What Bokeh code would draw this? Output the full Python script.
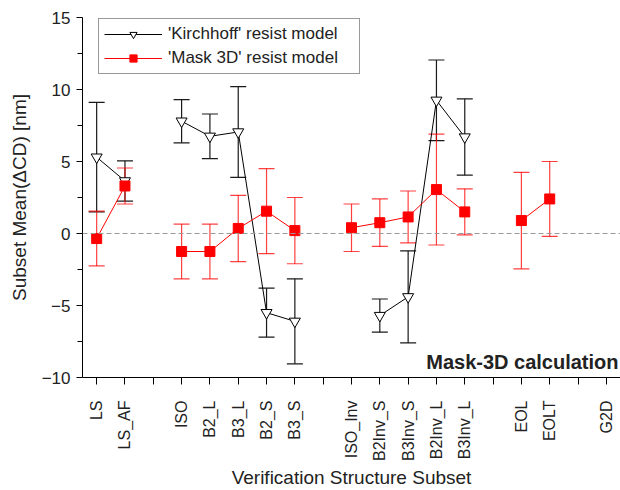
import math
from bokeh.plotting import figure
from bokeh.models import (Whisker, TeeHead, ColumnDataSource, FixedTicker, Span,
                          Label, Legend, LegendItem, Range1d)
from bokeh.embed import file_html
from bokeh.resources import INLINE

nan = float("nan")

# ---- data ----
categories = ["LS", "LS_AF", "", "ISO", "B2_L", "B3_L", "B2_S", "B3_S", "",
              "ISO_Inv", "B2Inv_S", "B3Inv_S", "B2Inv_L", "B3Inv_L", "",
              "EOL", "EOLT", "", "G2D"]
x_pos = list(range(1, len(categories) + 1))

kirch_mean = [5.3, 3.65, nan, 7.8, 6.75, 7.05, -5.5, -6.1, nan,
              nan, -5.7, -4.4, 9.25, 6.7, nan, nan, nan, nan, nan]
kirch_err = [3.8, 1.4, nan, 1.5, 1.55, 3.15, 1.7, 2.95, nan,
             nan, 1.15, 3.2, 2.8, 2.65, nan, nan, nan, nan, nan]

mask_mean = [-0.35, 3.3, nan, -1.25, -1.25, 0.35, 1.55, 0.2, nan,
             0.4, 0.75, 1.15, 3.05, 1.5, nan, 0.9, 2.4, nan, nan]
mask_err = [1.9, 1.25, nan, 1.9, 1.9, 2.3, 2.95, 2.3, nan,
            1.65, 1.65, 1.8, 3.85, 1.6, nan, 3.35, 2.6, nan, nan]

y_ticks = [-10, -5, 0, 5, 10, 15]
y_minor_ticks = [-7.5, -2.5, 2.5, 7.5, 12.5]

FONT = "Liberation Sans"
TXT = "#222222"


def err_source(xs, means, errs):
    rows = [(x, m, e) for x, m, e in zip(xs, means, errs)
            if not (math.isnan(m) or math.isnan(e))]
    return ColumnDataSource(dict(
        x=[r[0] for r in rows],
        upper=[r[1] + r[2] for r in rows],
        lower=[r[1] - r[2] for r in rows],
    ))


p = figure(width=620, height=490, output_backend="svg", toolbar_location=None,
           x_range=Range1d(0.5, 19.5), y_range=Range1d(-10, 15),
           min_border_left=82, min_border_right=0, min_border_top=17,
           min_border_bottom=112)
p.outline_line_color = None
p.grid.visible = False
p.background_fill_color = "white"

# zero reference line
p.add_layout(Span(location=0, dimension="width", line_color="#9a9a9a",
                  line_dash="5 3", line_width=1))

# Kirchhoff series (black)
ksrc = err_source(x_pos, kirch_mean, kirch_err)
p.add_layout(Whisker(source=ksrc, base="x", upper="upper", lower="lower",
                     line_color="#1a1a1a", line_width=1.2,
                     upper_head=TeeHead(size=16, line_color="#1a1a1a", line_width=1.2),
                     lower_head=TeeHead(size=16, line_color="#1a1a1a", line_width=1.2)))
kl = p.line(x_pos, kirch_mean, line_color="black", line_width=1)
ks = p.scatter(x_pos, kirch_mean, marker="inverted_triangle", size=11,
               fill_color="white", line_color="black", line_width=1)

# Mask 3D series (red)
msrc = err_source(x_pos, mask_mean, mask_err)
p.add_layout(Whisker(source=msrc, base="x", upper="upper", lower="lower",
                     line_color="red", line_alpha=0.75, line_width=1.2,
                     upper_head=TeeHead(size=16, line_color="red", line_alpha=0.75, line_width=1.2),
                     lower_head=TeeHead(size=16, line_color="red", line_alpha=0.75, line_width=1.2)))
ml = p.line(x_pos, mask_mean, line_color="red", line_width=1)
ms = p.scatter(x_pos, mask_mean, marker="square", size=10,
               fill_color="red", line_color="red")

# legend
legend = Legend(items=[
    LegendItem(label="'Kirchhoff' resist model", renderers=[kl, ks]),
    LegendItem(label="'Mask 3D' resist model", renderers=[ml, ms]),
], location=(16, 303))
legend.label_text_font = FONT
legend.label_text_font_size = "17px"
legend.label_text_color = TXT
legend.border_line_color = "#333333"
legend.border_line_width = 1
legend.background_fill_color = "white"
legend.background_fill_alpha = 1
legend.padding = 5
legend.spacing = 4
legend.label_height = 18
legend.glyph_height = 18
legend.glyph_width = 58
legend.label_standoff = 6
legend.label_width = 186
legend.margin = 0
p.add_layout(legend)

# annotation
p.add_layout(Label(x=19.43, y=-8.95, text="Mask-3D calculation", text_align="right",
                   text_baseline="alphabetic", text_font=FONT,
                   text_font_size="20px", text_font_style="bold", text_color=TXT))

# axes
xa = p.xaxis[0]
xa.ticker = FixedTicker(ticks=x_pos)
xa.major_label_overrides = {x: c for x, c in zip(x_pos, categories)}
xa.major_label_orientation = math.pi / 2
xa.major_tick_in = 0
xa.major_tick_out = 7
xa.minor_tick_in = 0
xa.minor_tick_out = 0
xa.major_label_standoff = 16
xa.major_label_text_font_size = "16px"
xa.axis_label = "Verification Structure Subset"
xa.axis_label_standoff = 3

ya = p.yaxis[0]
ya.ticker = FixedTicker(ticks=y_ticks, minor_ticks=y_minor_ticks)
ya.major_tick_in = 0
ya.major_tick_out = 6
ya.minor_tick_in = 0
ya.minor_tick_out = 5
ya.major_label_standoff = 6
ya.major_label_text_font_size = "17px"
ya.axis_label = "Subset Mean(\u0394CD) [nm]"
ya.axis_label_standoff = 9

for ax in (xa, ya):
    ax.axis_line_color = "black"
    ax.axis_line_width = 1
    ax.major_tick_line_color = "black"
    ax.minor_tick_line_color = "black"
    ax.major_label_text_font = FONT
    ax.major_label_text_color = TXT
    ax.axis_label_text_font = FONT
    ax.axis_label_text_font_size = "19px"
    ax.axis_label_text_font_style = "normal"
    ax.axis_label_text_color = TXT

open("out.html", "w").write(file_html(p, INLINE))
